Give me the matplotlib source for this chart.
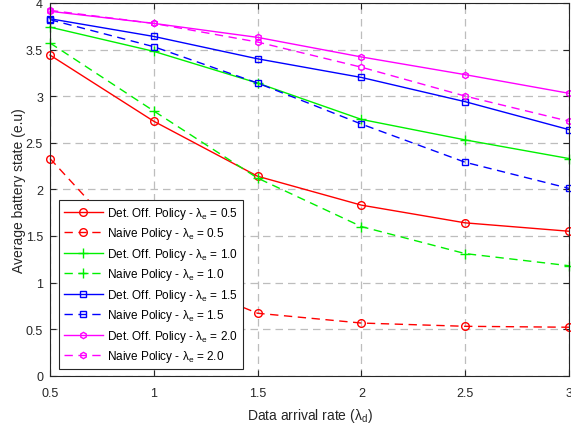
import numpy as np
import matplotlib.pyplot as plt

plt.rcParams['font.family'] = ['Liberation Sans', 'DejaVu Sans']
plt.rcParams['mathtext.fontset'] = 'custom'
plt.rcParams['mathtext.rm'] = 'Liberation Sans'
plt.rcParams['mathtext.it'] = 'Liberation Sans'

x = [0.5, 1.0, 1.5, 2.0, 2.5, 3.0]

det_05 = [3.44, 2.73, 2.14, 1.83, 1.64, 1.55]
naive_05 = [2.33, 1.12, 0.67, 0.565, 0.53, 0.52]
det_10 = [3.74, 3.48, 3.14, 2.75, 2.53, 2.33]
naive_10 = [3.57, 2.84, 2.12, 1.60, 1.31, 1.18]
det_15 = [3.83, 3.64, 3.40, 3.20, 2.94, 2.64]
naive_15 = [3.82, 3.53, 3.14, 2.70, 2.29, 2.01]
det_20 = [3.91, 3.78, 3.63, 3.42, 3.23, 3.03]
naive_20 = [3.92, 3.78, 3.58, 3.31, 3.00, 2.73]

lam_e = ['0.5', '1.0', '1.5', '2.0']
colors = ['#ff0000', '#00f000', '#0000ff', '#ff00ff']
markers = ['o', '+', 's', 'h']
msizes = [5.5, 7, 4.5, 4.5]
det = [det_05, det_10, det_15, det_20]
naive = [naive_05, naive_10, naive_15, naive_20]

fig = plt.figure(figsize=(5.71, 4.27), dpi=100)
ax = fig.add_axes([50 / 571, 50.3 / 427, 519 / 571, 372.8 / 427])

for i in range(4):
    for ys, ls, name in [(det[i], '-', 'Det. Off. Policy'), (naive[i], (0, (6, 4)), 'Naive Policy')]:
        ax.plot(x, ys, linestyle=ls, color=colors[i], marker=markers[i], markersize=msizes[i],
                markerfacecolor='none', markeredgecolor=colors[i], linewidth=1,
                label=r'%s - $\mathrm{\lambda_e}$ = %s' % (name, lam_e[i]), clip_on=False)

ax.set_xlim(0.5, 3)
ax.set_ylim(0, 4)
ax.set_xticks([0.5, 1, 1.5, 2, 2.5, 3])
ax.set_xticklabels(['0.5', '1', '1.5', '2', '2.5', '3'])
ax.set_yticks(np.arange(0, 4.01, 0.5))
ax.set_yticklabels(['0', '0.5', '1', '1.5', '2', '2.5', '3', '3.5', '4'])
ax.grid(True, linestyle=(0, (6, 4)), color='#bdbdbd', linewidth=0.9)
ax.tick_params(direction='in', top=True, right=True, labelsize=9, length=4, colors='#262626')
ax.tick_params(axis='x', pad=8)
ax.tick_params(axis='y', pad=5)
for s in ax.spines.values():
    s.set_color('#262626')
    s.set_linewidth(0.8)

ax.set_xlabel(r'Data arrival rate ($\mathrm{\lambda_d}$)', fontsize=10, color='#262626', labelpad=5)
ax.set_ylabel('Average battery state (e.u)', fontsize=10, color='#262626', labelpad=0)

leg = ax.legend(loc='lower left', bbox_to_anchor=(9 / 519, 6.7 / 372.8), borderaxespad=0,
                fontsize=8.5, fancybox=False, edgecolor='#262626', framealpha=1,
                handlelength=3.3, labelspacing=0.38, borderpad=0.4, handletextpad=0.4)
leg.get_frame().set_linewidth(0.8)

fig.savefig('out.png', dpi=100)
